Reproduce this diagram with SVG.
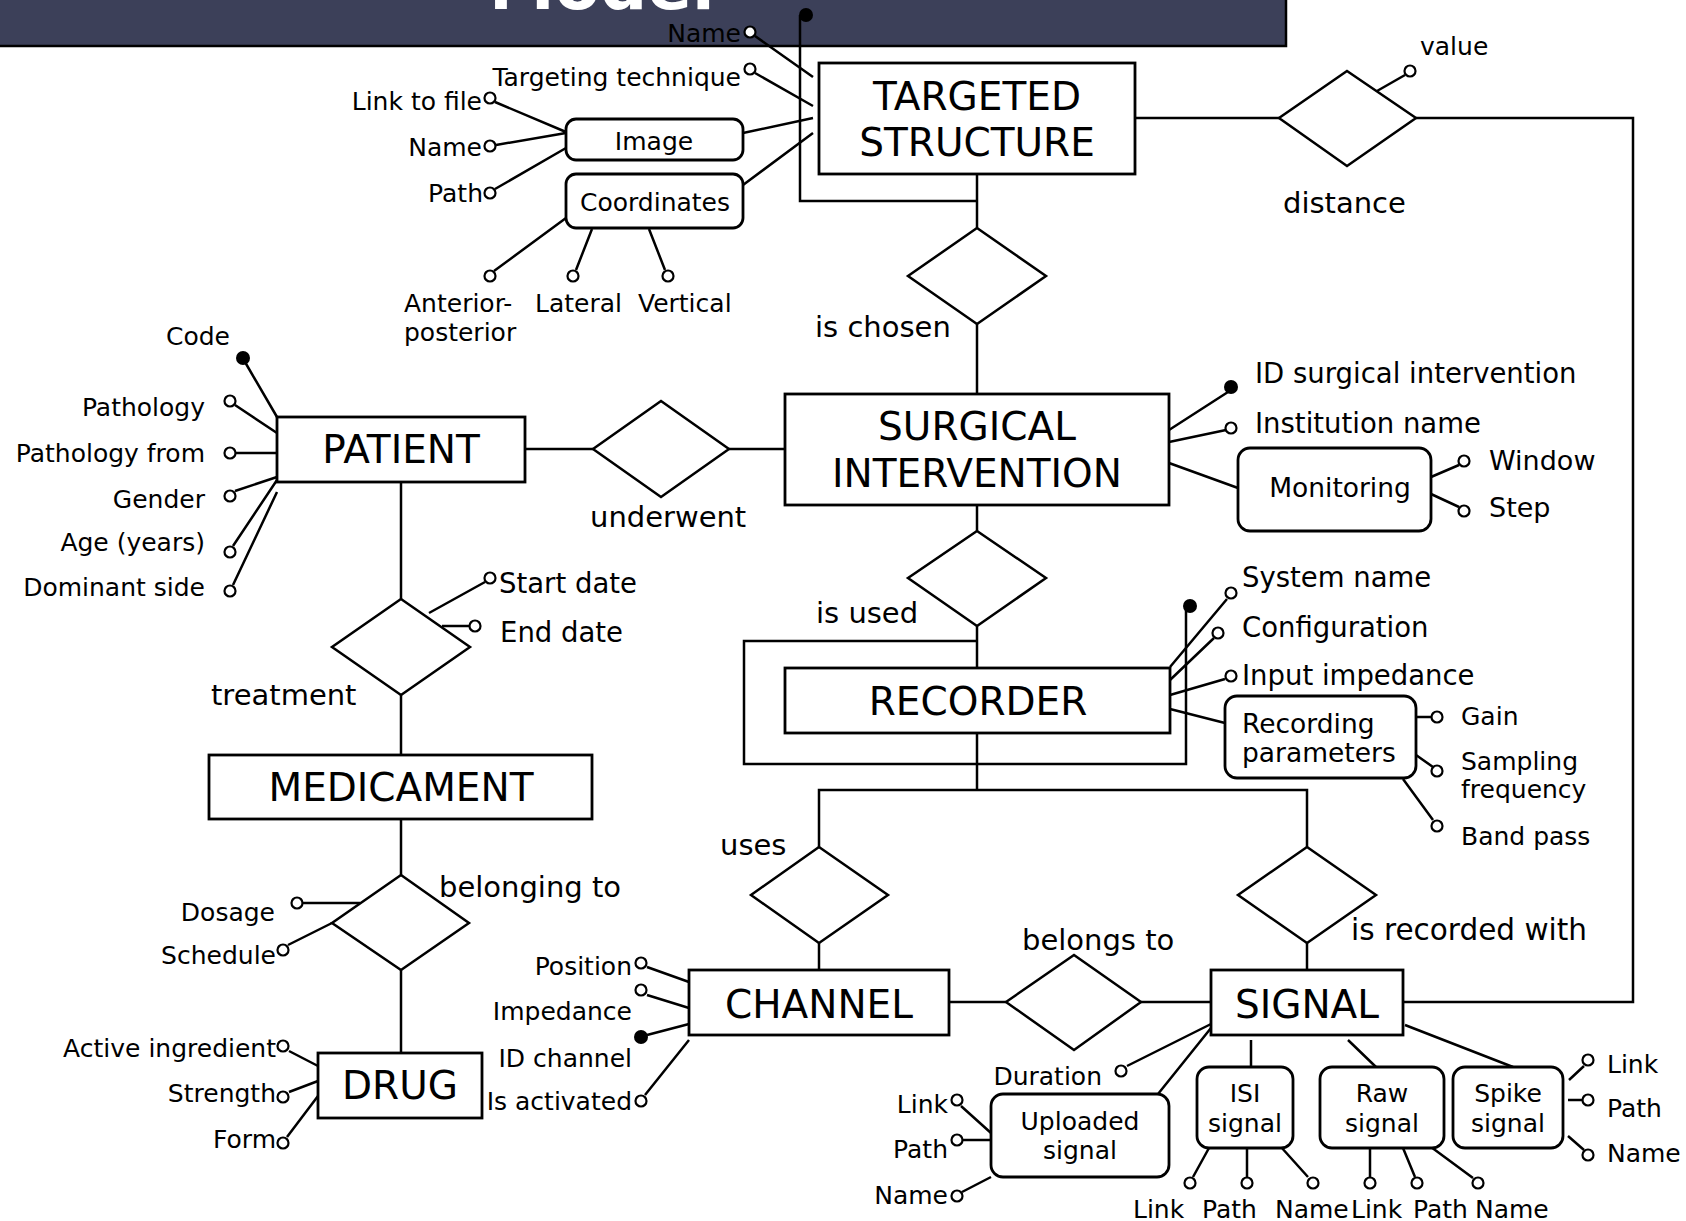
<svg xmlns="http://www.w3.org/2000/svg" width="1686" height="1221" viewBox="0 0 1686 1221">
<style>
text{font-family:"DejaVu Sans",Verdana,"Liberation Sans",sans-serif;fill:#000}
.e{font-size:39px;text-anchor:middle}
.a{font-size:25px}
.ab{font-size:27.5px}
.am{font-size:25px;text-anchor:middle}
.ae{font-size:25px;text-anchor:end}
.r{font-size:29px}
.ln{stroke:#000;stroke-width:2.5;fill:none}
.box{fill:#fff;stroke:#000;stroke-width:2.8}
.dia{fill:#fff;stroke:#000;stroke-width:2.5}
.oc{fill:#fff;stroke:#000;stroke-width:2.2}
.kc{fill:#000}
</style>
<rect x="-5" y="-5" width="1291" height="51" fill="#3c4059" stroke="#000" stroke-width="2.5"/>
<text x="489" y="9" style="font-size:66px;font-weight:bold;fill:#fff">Model</text>
<g id="connectors" class="ln">
<path d="M800,15V201H977"/>
<path d="M977,174V228"/>
<path d="M977,324V393"/>
<path d="M1135,118H1279"/>
<path d="M1416,118H1633V1002H1403"/>
<path d="M525,449H593"/>
<path d="M729,449H785"/>
<path d="M977,505V531"/>
<path d="M977,626V668"/>
<path d="M977,641H744V764H1186V606"/>
<path d="M977,733V790"/>
<path d="M819,847V790H1307V847"/>
<path d="M819,943V970"/>
<path d="M1307,943V970"/>
<path d="M949,1002H1006"/>
<path d="M1141,1002H1211"/>
<path d="M401,482V599"/>
<path d="M401,695V755"/>
<path d="M401,819V875"/>
<path d="M401,970V1053"/>
<path d="M755,36L813,77M755,73L813,106M743,133L813,118M743,185L813,133"/>
<path d="M495,102L566,132M496,145L566,133M495,189L566,148"/>
<path d="M494,271L566,218M576,270L592,229M665,270L649,229"/>
<path d="M1377,91L1405,75"/>
<path d="M245,362L277,417M235,405L277,433M236,453H277M235,491L277,477M233,546L277,480M233,585L277,492"/>
<path d="M429,613L485,582M442,626H469"/>
<path d="M1169,430L1228,392M1169,442L1226,430M1169,463L1238,488M1431,477L1459,465M1431,494L1459,507"/>
<path d="M1170,667L1227,599M1170,680L1214,638M1170,695L1225,679M1170,709L1225,723M1416,717H1431M1416,755L1433,767M1403,779L1433,820"/>
<path d="M647,967L689,982M647,995L689,1008M647,1035L689,1024M645,1095L689,1040"/>
<path d="M1127,1066L1211,1024M1158,1094L1211,1028M961,1106L991,1133M963,1140H991M962,1192L991,1177"/>
<path d="M1251,1040V1067M1193,1177L1209,1148M1247,1148V1177M1281,1147L1308,1177"/>
<path d="M1348,1040L1376,1067M1370,1148V1177M1403,1148L1415,1177M1431,1147L1473,1178"/>
<path d="M1405,1025L1513,1067M1569,1080L1584,1066M1568,1100H1582M1568,1136L1584,1150"/>
<path d="M289,1051L318,1066M289,1092L318,1081M287,1137L318,1096"/>
<path d="M303,903H360M288,945L332,923"/>
</g>
<g id="targeted-structure">
<rect class="box" x="819" y="63" width="316" height="111"/>
<text class="e" x="977" y="110">TARGETED</text>
<text class="e" x="977" y="156">STRUCTURE</text>
<circle class="kc" cx="806" cy="15" r="7"/>
<circle class="oc" cx="750" cy="32" r="5.5"/><text class="ae" x="741" y="42">Name</text>
<circle class="oc" cx="750" cy="69" r="5.5"/><text class="ae" x="741" y="86">Targeting technique</text>
</g>
<g id="image">
<rect class="box" x="566" y="119" width="177" height="41" rx="10"/>
<text class="am" x="654" y="150">Image</text>
<circle class="oc" cx="490" cy="98" r="5.5"/><text class="ae" x="482" y="110">Link to file</text>
<circle class="oc" cx="490" cy="146" r="5.5"/><text class="ae" x="482" y="156">Name</text>
<circle class="oc" cx="490" cy="193" r="5.5"/><text class="ae" x="483" y="202">Path</text>
</g>
<g id="coordinates">
<rect class="box" x="566" y="174" width="177" height="54" rx="10"/>
<text class="am" x="655" y="211">Coordinates</text>
<circle class="oc" cx="490" cy="276" r="5.5"/>
<circle class="oc" cx="573" cy="276" r="5.5"/>
<circle class="oc" cx="668" cy="276" r="5.5"/>
<text class="a" x="404" y="312">Anterior-</text>
<text class="a" x="404" y="341">posterior</text>
<text class="a" x="535" y="312">Lateral</text>
<text class="a" x="638" y="312">Vertical</text>
</g>
<g id="is-chosen">
<polygon class="dia" points="977,228 1046,276 977,324 908,276"/>
<text class="r" x="815" y="337">is chosen</text>
</g>
<g id="distance">
<polygon class="dia" points="1347,71 1416,118 1347,166 1279,118"/>
<text class="r" x="1283" y="213">distance</text>
<circle class="oc" cx="1410" cy="71" r="5.5"/>
<text class="a" x="1420" y="55">value</text>
</g>
<g id="patient">
<rect class="box" x="277" y="417" width="248" height="65"/>
<text class="e" x="401" y="463">PATIENT</text>
<circle class="kc" cx="243" cy="358" r="7"/><text class="a" x="166" y="345">Code</text>
<circle class="oc" cx="230" cy="401" r="5.5"/><text class="ae" x="205" y="416">Pathology</text>
<circle class="oc" cx="230" cy="453" r="5.5"/><text class="ae" x="205" y="462">Pathology from</text>
<circle class="oc" cx="230" cy="496" r="5.5"/><text class="ae" x="205" y="508">Gender</text>
<circle class="oc" cx="230" cy="552" r="5.5"/><text class="ae" x="205" y="551">Age (years)</text>
<circle class="oc" cx="230" cy="591" r="5.5"/><text class="ae" x="205" y="596">Dominant side</text>
</g>
<g id="underwent">
<polygon class="dia" points="661,401 729,449 661,497 593,449"/>
<text class="r" x="590" y="527">underwent</text>
</g>
<g id="surgical-intervention">
<rect class="box" x="785" y="394" width="384" height="111"/>
<text class="e" x="977" y="440">SURGICAL</text>
<text class="e" x="977" y="487">INTERVENTION</text>
<circle class="kc" cx="1231" cy="387" r="7"/><text class="ab" x="1255" y="383">ID surgical intervention</text>
<circle class="oc" cx="1231" cy="428" r="5.5"/><text class="ab" x="1255" y="433">Institution name</text>
</g>
<g id="monitoring">
<rect class="box" x="1238" y="448" width="193" height="83" rx="12"/>
<text class="am" x="1340" y="497" style="font-size:26.5px">Monitoring</text>
<circle class="oc" cx="1464" cy="461" r="5.5"/><text class="ab" x="1489" y="470" style="font-size:27px">Window</text>
<circle class="oc" cx="1464" cy="511" r="5.5"/><text class="ab" x="1489" y="517" style="font-size:27px">Step</text>
</g>
<g id="is-used">
<polygon class="dia" points="977,531 1046,578 977,626 908,578"/>
<text class="r" x="816" y="623">is used</text>
</g>
<g id="recorder">
<rect class="box" x="785" y="668" width="385" height="65"/>
<text class="e" x="978" y="715">RECORDER</text>
<circle class="kc" cx="1190" cy="606" r="7"/>
<circle class="oc" cx="1231" cy="593" r="5.5"/><text class="ab" x="1242" y="587">System name</text>
<circle class="oc" cx="1218" cy="633" r="5.5"/><text class="ab" x="1242" y="637">Configuration</text>
<circle class="oc" cx="1231" cy="676" r="5.5"/><text class="ab" x="1242" y="685">Input impedance</text>
</g>
<g id="recording-parameters">
<rect class="box" x="1225" y="696" width="191" height="82" rx="12"/>
<text class="a" x="1242" y="733" style="font-size:26.5px">Recording</text>
<text class="a" x="1242" y="762" style="font-size:26.5px">parameters</text>
<circle class="oc" cx="1437" cy="717" r="5.5"/><text class="a" x="1461" y="725">Gain</text>
<circle class="oc" cx="1437" cy="771" r="5.5"/><text class="a" x="1461" y="770">Sampling</text><text class="a" x="1461" y="798">frequency</text>
<circle class="oc" cx="1437" cy="826" r="5.5"/><text class="a" x="1461" y="845">Band pass</text>
</g>
<g id="uses">
<polygon class="dia" points="819,847 888,895 819,943 751,895"/>
<text class="r" x="720" y="855">uses</text>
</g>
<g id="is-recorded-with">
<polygon class="dia" points="1307,847 1376,895 1307,943 1238,895"/>
<text class="r" x="1351" y="940" style="font-size:29.5px">is recorded with</text>
</g>
<g id="channel">
<rect class="box" x="689" y="970" width="260" height="65"/>
<text class="e" x="819" y="1018">CHANNEL</text>
<circle class="oc" cx="641" cy="963" r="5.5"/><text class="ae" x="632" y="975">Position</text>
<circle class="oc" cx="641" cy="990" r="5.5"/><text class="ae" x="632" y="1020">Impedance</text>
<circle class="kc" cx="641" cy="1037" r="7"/><text class="ae" x="632" y="1067">ID channel</text>
<circle class="oc" cx="641" cy="1101" r="5.5"/><text class="ae" x="632" y="1110">Is activated</text>
</g>
<g id="belongs-to">
<polygon class="dia" points="1074,955 1141,1002 1074,1050 1006,1002"/>
<text class="r" x="1022" y="950">belongs to</text>
</g>
<g id="signal">
<rect class="box" x="1211" y="970" width="192" height="65"/>
<text class="e" x="1307" y="1018">SIGNAL</text>
<circle class="oc" cx="1121" cy="1071" r="5.5"/><text class="ae" x="1102" y="1085">Duration</text>
</g>
<g id="uploaded-signal">
<rect class="box" x="991" y="1094" width="178" height="83" rx="12"/>
<text class="am" x="1080" y="1130">Uploaded</text>
<text class="am" x="1080" y="1159">signal</text>
<circle class="oc" cx="957" cy="1100" r="5.5"/><text class="ae" x="948" y="1113">Link</text>
<circle class="oc" cx="957" cy="1140" r="5.5"/><text class="ae" x="948" y="1158">Path</text>
<circle class="oc" cx="957" cy="1196" r="5.5"/><text class="ae" x="948" y="1204">Name</text>
</g>
<g id="isi-signal">
<rect class="box" x="1197" y="1067" width="96" height="81" rx="12"/>
<text class="am" x="1245" y="1102">ISI</text>
<text class="am" x="1245" y="1132">signal</text>
<circle class="oc" cx="1190" cy="1183" r="5.5"/>
<circle class="oc" cx="1247" cy="1183" r="5.5"/>
<circle class="oc" cx="1313" cy="1183" r="5.5"/>
<text class="a" x="1133" y="1218">Link</text>
<text class="a" x="1202" y="1218">Path</text>
<text class="a" x="1275" y="1218">Name</text>
</g>
<g id="raw-signal">
<rect class="box" x="1320" y="1067" width="124" height="81" rx="12"/>
<text class="am" x="1382" y="1102">Raw</text>
<text class="am" x="1382" y="1132">signal</text>
<circle class="oc" cx="1370" cy="1183" r="5.5"/>
<circle class="oc" cx="1417" cy="1183" r="5.5"/>
<circle class="oc" cx="1478" cy="1183" r="5.5"/>
<text class="a" x="1351" y="1218">Link</text>
<text class="a" x="1413" y="1218">Path</text>
<text class="a" x="1475" y="1218">Name</text>
</g>
<g id="spike-signal">
<rect class="box" x="1453" y="1067" width="110" height="81" rx="12"/>
<text class="am" x="1508" y="1102">Spike</text>
<text class="am" x="1508" y="1132">signal</text>
<circle class="oc" cx="1588" cy="1060" r="5.5"/><text class="a" x="1607" y="1073">Link</text>
<circle class="oc" cx="1588" cy="1100" r="5.5"/><text class="a" x="1607" y="1117">Path</text>
<circle class="oc" cx="1588" cy="1155" r="5.5"/><text class="a" x="1607" y="1162">Name</text>
</g>
<g id="treatment">
<polygon class="dia" points="401,599 470,647 401,695 332,647"/>
<text class="r" x="211" y="705">treatment</text>
<circle class="oc" cx="490" cy="578" r="5.5"/><text class="ab" x="499" y="593">Start date</text>
<circle class="oc" cx="475" cy="626" r="5.5"/><text class="ab" x="500" y="642">End date</text>
</g>
<g id="medicament">
<rect class="box" x="209" y="755" width="383" height="64"/>
<text class="e" x="401" y="801">MEDICAMENT</text>
</g>
<g id="belonging-to">
<polygon class="dia" points="401,875 469,923 401,970 332,923"/>
<text class="r" x="439" y="897">belonging to</text>
<circle class="oc" cx="297" cy="903" r="5.5"/><text class="ae" x="275" y="921">Dosage</text>
<circle class="oc" cx="283" cy="950" r="5.5"/><text class="ae" x="276" y="964">Schedule</text>
</g>
<g id="drug">
<rect class="box" x="318" y="1053" width="164" height="65"/>
<text class="e" x="400" y="1099">DRUG</text>
<circle class="oc" cx="283" cy="1046" r="5.5"/><text class="ae" x="276" y="1057">Active ingredient</text>
<circle class="oc" cx="283" cy="1097" r="5.5"/><text class="ae" x="276" y="1102">Strength</text>
<circle class="oc" cx="283" cy="1143" r="5.5"/><text class="ae" x="276" y="1148">Form</text>
</g>
</svg>
